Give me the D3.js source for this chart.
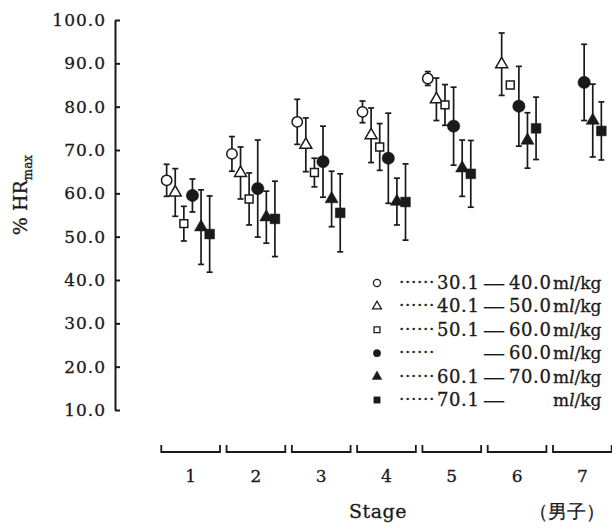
<!DOCTYPE html>
<html>
<head>
<meta charset="utf-8">
<script src="https://cdn.jsdelivr.net/npm/d3@7"></script>
<style>
  html, body { margin: 0; padding: 0; background: #fff; }
  svg { display: block; }
  text { font-family: "DejaVu Serif", "Liberation Serif", serif; fill: #1a1a1a; stroke: #1a1a1a; stroke-width: 0.3px; }
</style>
</head>
<body>
<svg id="chart" width="612" height="529"></svg>
<script>
// Stages on the x axis
const stages = [1, 2, 3, 4, 5, 6, 7];
const yTicks = [10, 20, 30, 40, 50, 60, 70, 80, 90, 100];

// Mean %HRmax per stage for each VO2max group (null = no data)
const meanA = [63.0, 69.1, 76.5, 78.8, 86.5, null, null];   // 30.1–40.0
const meanB = [60.2, 64.7, 71.2, 73.4, 81.7, 89.8, null];   // 40.1–50.0
const meanC = [53.0, 58.7, 64.8, 70.7, 80.4, 85.0, null];   // 50.1–60.0
const meanD = [59.5, 61.1, 67.3, 68.1, 75.5, 80.1, 85.6];   // —60.0
const meanE = [52.2, 54.5, 58.7, 58.1, 65.8, 72.2, 76.8];   // 60.1–70.0
const meanF = [50.6, 54.1, 55.5, 58.0, 64.5, 75.0, 74.4];   // 70.1—

// Standard deviations (error bar half-lengths)
const sdA = [3.7, 4.0, 5.2, 2.5, 1.6, null, null];
const sdB = [5.5, 6.0, 6.2, 6.3, 4.9, 7.2, null];
const sdC = [4.0, 6.0, 3.3, 5.4, 4.7, null, null];
const sdD = [3.8, 11.2, 8.2, 10.4, 9.0, 9.2, 8.8];
const sdE = [8.6, 6.0, 6.4, 5.4, 6.5, 6.4, 8.4];
const sdF = [8.8, 8.7, 9.0, 8.8, 7.7, 7.2, 6.7];

// Legend text parts
const legendLow  = ["30.1", "40.1", "50.1", "", "60.1", "70.1"];
const legendHigh = ["40.0", "50.0", "60.0", "60.0", "70.0", ""];

const seriesKeys = ["A", "B", "C", "D", "E", "F"];
const series = [
  { key: "A", mean: meanA, sd: sdA, shape: d3.symbolCircle,   filled: false, size: 85,  lsize: 40 },
  { key: "B", mean: meanB, sd: sdB, shape: d3.symbolTriangle, filled: false, size: 62,  lsize: 34 },
  { key: "C", mean: meanC, sd: sdC, shape: d3.symbolSquare,   filled: false, size: 62,  lsize: 34 },
  { key: "D", mean: meanD, sd: sdD, shape: d3.symbolCircle,   filled: true,  size: 120, lsize: 42 },
  { key: "E", mean: meanE, sd: sdE, shape: d3.symbolTriangle, filled: true,  size: 75,  lsize: 40 },
  { key: "F", mean: meanF, sd: sdF, shape: d3.symbolSquare,   filled: true,  size: 95,  lsize: 40 }
];

const ink = "#1a1a1a";
const svg = d3.select("#chart");

const y = d3.scaleLinear().domain([10, 100]).range([410, 20]);
const x = d3.scaleBand().domain(stages).range([158, 615])
  .paddingInner(0.07).paddingOuter(0.035);
const off = d3.scalePoint().domain(seriesKeys).range([-24, 19]);

// Y axis: labels on the left, short ticks pointing into the plot
const yAxis = svg.append("g")
  .attr("transform", "translate(115,0)")
  .call(d3.axisLeft(y).tickValues(yTicks).tickSize(-5).tickSizeOuter(0)
    .tickPadding(9).tickFormat(d => d.toFixed(1)));
yAxis.select(".domain").attr("stroke", ink).attr("stroke-width", 2);
yAxis.selectAll(".tick line").attr("stroke", ink).attr("stroke-width", 2);
yAxis.selectAll(".tick text")
  .attr("font-family", "DejaVu Serif, serif")
  .attr("font-size", 17)
  .attr("letter-spacing", 1)
  .attr("fill", ink);

// Y axis title
svg.append("text")
  .attr("transform", "translate(27,195) rotate(-90)")
  .attr("text-anchor", "middle")
  .attr("font-size", 19)
  .call(t => {
    t.append("tspan").text("% HR");
    t.append("tspan").attr("font-size", 12).attr("dy", 5).text("max");
  });

// Stage brackets along the bottom
const bracketY = 452;
const brackets = svg.append("g");
stages.forEach(s => {
  const x0 = x(s) + 1, x1 = x(s) + x.bandwidth() - 1;
  brackets.append("path")
    .attr("d", `M${x0},${bracketY - 7}V${bracketY}H${x1}V${bracketY - 7}`)
    .attr("fill", "none").attr("stroke", ink).attr("stroke-width", 1.8);
  svg.append("text")
    .attr("x", x(s) + x.bandwidth() / 2)
    .attr("y", 482)
    .attr("text-anchor", "middle")
    .attr("font-size", 17)
    .text(s);
});

svg.append("text").attr("x", 378).attr("y", 518)
  .attr("text-anchor", "middle").attr("font-size", 19).attr("letter-spacing", 0.5)
  .text("Stage");
svg.append("text").attr("x", 567).attr("y", 518)
  .attr("text-anchor", "middle").attr("font-size", 19)
  .attr("font-family", "Noto Sans CJK JP, serif")
  .text("（男子）");

// Error bars and markers
const plot = svg.append("g");
series.forEach(sr => {
  const g = plot.append("g");
  stages.forEach((s, i) => {
    const m = sr.mean[i];
    if (m == null) return;
    const cx = x(s) + x.bandwidth() / 2 + off(sr.key);
    const sd = sr.sd[i];
    if (sd != null) {
      const yt = y(m + sd), yb = y(m - sd);
      g.append("line").attr("x1", cx).attr("x2", cx).attr("y1", yt).attr("y2", yb)
        .attr("stroke", ink).attr("stroke-width", 1.7);
      [yt, yb].forEach(yy => g.append("line")
        .attr("x1", cx - 3).attr("x2", cx + 3).attr("y1", yy).attr("y2", yy)
        .attr("stroke", ink).attr("stroke-width", 1.7));
    }
    g.append("path")
      .attr("d", d3.symbol().type(sr.shape).size(sr.size)())
      .attr("transform", `translate(${cx},${y(m)})`)
      .attr("fill", sr.filled ? ink : "#fff")
      .attr("stroke", ink)
      .attr("stroke-width", sr.filled ? 0.5 : 1.5);
  });
});

// Legend
const legend = svg.append("g");
series.forEach((sr, i) => {
  const ly = 283 + i * 23.4;
  legend.append("path")
    .attr("d", d3.symbol().type(sr.shape).size(sr.lsize)())
    .attr("transform", `translate(377,${ly})`)
    .attr("fill", sr.filled ? ink : "#fff")
    .attr("stroke", ink).attr("stroke-width", sr.filled ? 0.5 : 1.3);
  const base = ly + 6;
  legend.append("text").attr("x", 399).attr("y", base - 1)
    .attr("font-size", 17).attr("letter-spacing", 0.6).text("······");
  if (legendLow[i]) legend.append("text").attr("x", 437).attr("y", base)
    .attr("font-size", 18).attr("letter-spacing", 0.6).text(legendLow[i]);
  legend.append("text").attr("x", 483).attr("y", base)
    .attr("font-size", 17).attr("textLength", 22).attr("lengthAdjust", "spacingAndGlyphs")
    .text("—");
  if (legendHigh[i]) legend.append("text").attr("x", 509).attr("y", base)
    .attr("font-size", 18).attr("letter-spacing", 0.6).text(legendHigh[i]);
  legend.append("text").attr("x", 553).attr("y", base)
    .attr("font-size", 17)
    .call(t => {
      t.append("tspan").text("m");
      t.append("tspan").attr("font-style", "italic").text("l");
      t.append("tspan").text("/kg");
    });
});
</script>
</body>
</html>
